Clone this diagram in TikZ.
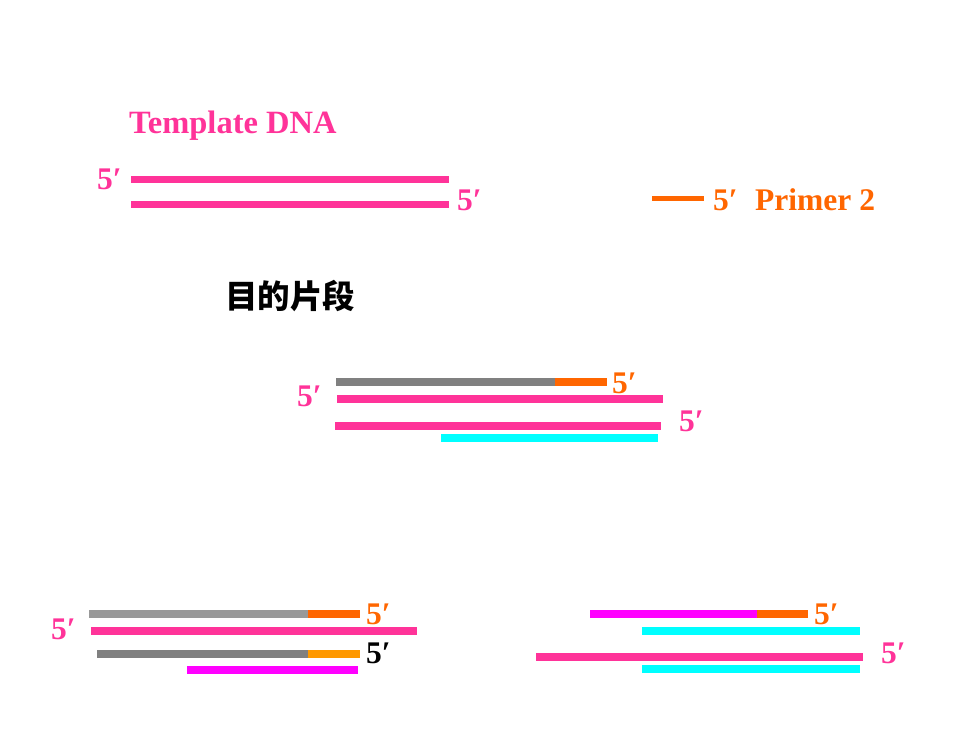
\documentclass[tikz,border=0pt]{standalone}
\usepackage{fontspec}
\setmainfont{Liberation Serif}
\newfontfamily\cjk{Noto Sans CJK SC}
\definecolor{dnapink}{HTML}{FF3399}
\definecolor{dnaorange}{HTML}{FF6600}
\definecolor{lightorange}{HTML}{FF9900}
\definecolor{dnacyan}{HTML}{00FFFF}
\definecolor{dnamag}{HTML}{FF00FF}
\definecolor{darkgray}{HTML}{808080}
\definecolor{lightgray}{HTML}{999999}
\tikzset{
  bar/.style={line width=8pt, line cap=butt},
  lbl/.style={anchor=base west, inner sep=0pt, font=\fontsize{31.5}{33}\selectfont\bfseries},
}
\begin{document}
\begin{tikzpicture}[x=1pt,y=-1pt]
\useasboundingbox[fill=white] (0,0) rectangle (980,735);
% title
\node[lbl, text=dnapink, font=\fontsize{32.5}{34}\selectfont\bfseries] (title) at (129,134) {Template DNA};
% template strands
\draw[bar, line width=7pt, dnapink] (131,179.5) -- (449,179.5);
\draw[bar, line width=7pt, dnapink] (131,204.5) -- (449,204.5);
\node[lbl, text=dnapink] (t1) at (97,190) {5′};
\node[lbl, text=dnapink] (t2) at (457,211) {5′};
% primer 2 legend
\draw[bar, line width=5pt, dnaorange] (652,198.5) -- (704,198.5);
\node[lbl, text=dnaorange] (p5) at (713,211) {5′};
\node[lbl, text=dnaorange] (p2) at (755,211) {Primer 2};
% target fragment
\node[anchor=west, inner sep=0pt, font=\cjk\bfseries\fontsize{32.5}{34}\selectfont] (target) at (225,296) {目的片段};
% middle group
\draw[bar, darkgray] (336,382) -- (555,382);
\draw[bar, dnaorange] (555,382) -- (607,382);
\node[lbl, text=dnaorange] (m1) at (612,393) {5′};
\node[lbl, text=dnapink] (m2) at (297,406) {5′};
\draw[bar, dnapink] (337,399) -- (663,399);
\draw[bar, dnapink] (335,425.5) -- (661,425.5);
\node[lbl, text=dnapink] (m3) at (679,431) {5′};
\draw[bar, dnacyan] (441,437.5) -- (658,437.5);
% bottom left group
\draw[bar, lightgray] (89,614) -- (308,614);
\draw[bar, dnaorange] (308,614) -- (360,614);
\node[lbl, text=dnaorange] (bl1) at (366,624) {5′};
\node[lbl, text=dnapink] (bl2) at (51,639) {5′};
\draw[bar, dnapink] (91,631) -- (417,631);
\draw[bar, darkgray] (97,654) -- (308,654);
\draw[bar, lightorange] (308,654) -- (360,654);
\node[lbl, text=black] (bl3) at (366,663) {5′};
\draw[bar, dnamag] (187,670) -- (358,670);
% bottom right group
\draw[bar, dnamag] (590,614) -- (757,614);
\draw[bar, dnaorange] (757,614) -- (808,614);
\node[lbl, text=dnaorange] (br1) at (814,624) {5′};
\draw[bar, dnacyan] (642,631) -- (860,631);
\draw[bar, dnapink] (536,657) -- (863,657);
\node[lbl, text=dnapink] (br2) at (881,663) {5′};
\draw[bar, dnacyan] (642,669) -- (860,669);
\end{tikzpicture}
\end{document}
